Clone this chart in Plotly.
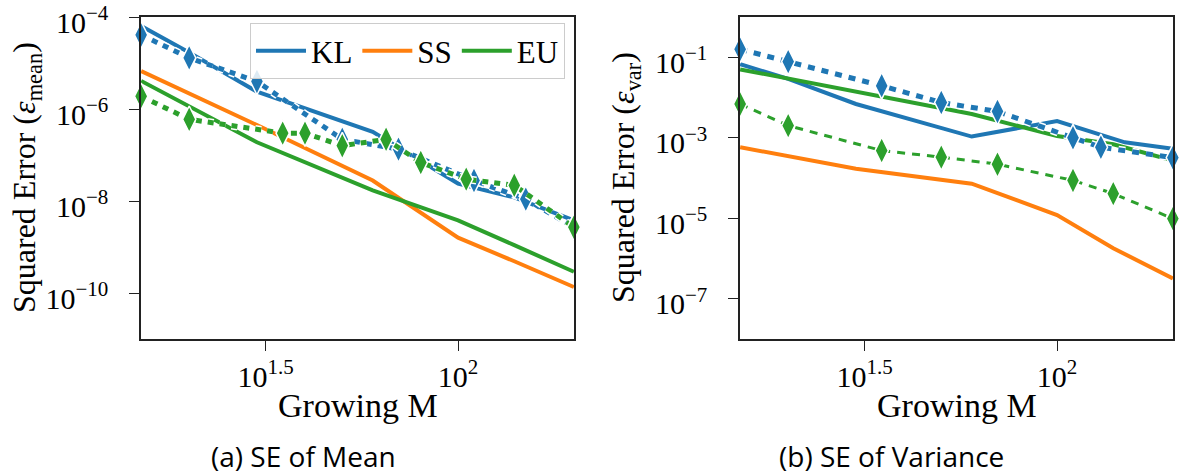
import plotly.graph_objects as go

W, H = 1192, 476

# ---------------- data: (a) SE of Mean ----------------
M_mean_kl = [15, 20, 30, 60, 100, 140, 200]
se_mean_kl = [6.4e-5, 1.7e-5, 2.4e-6, 3.2e-7, 2.4e-8, 1.2e-8, 3.8e-9]
M_mean_ss = [15, 20, 30, 60, 100, 140, 200]
se_mean_ss = [6.7e-6, 2.2e-6, 4.5e-7, 2.8e-8, 1.6e-9, 4.9e-10, 1.35e-10]
M_mean_eu = [15, 20, 30, 60, 100, 140, 200]
se_mean_eu = [4.1e-6, 1.15e-6, 1.9e-7, 1.7e-8, 3.8e-9, 1.1e-9, 2.9e-10]
M_mean_kl_dot = [15, 20, 30, 50, 70, 110, 150, 200]
se_mean_kl_dot = [4.1e-5, 1.3e-5, 4.0e-6, 2.2e-7, 1.35e-7, 2.8e-8, 1.1e-8, 2.7e-9]
M_mean_eu_dot = [15, 20, 35, 40, 50, 65, 80, 105, 140, 200]
se_mean_eu_dot = [1.9e-6, 6.0e-7, 3.0e-7, 3.0e-7, 1.6e-7, 2.2e-7, 6.9e-8, 3.0e-8, 2.2e-8, 2.7e-9]

# ---------------- data: (b) SE of Variance ----------------
M_var_kl = [15, 20, 30, 60, 100, 150, 200]
se_var_kl = [0.067, 0.029, 6.9e-3, 1.07e-3, 2.6e-3, 7.7e-4, 5.3e-4]
M_var_ss = [15, 30, 60, 100, 140, 200]
se_var_ss = [5.8e-4, 1.7e-4, 7.2e-5, 1.2e-5, 1.8e-6, 3.2e-7]
M_var_eu = [15, 30, 60, 100, 140, 200]
se_var_eu = [0.050, 0.0138, 3.9e-3, 1.1e-3, 6.9e-4, 2.7e-4]
M_var_kl_dot = [15, 20, 35, 50, 70, 110, 130, 200]
se_var_kl_dot = [0.158, 0.078, 0.0195, 7.5e-3, 4.5e-3, 1.0e-3, 5.8e-4, 3.2e-4]
M_var_eu_dot = [15, 20, 35, 50, 70, 110, 140, 200]
se_var_eu_dot = [6.9e-3, 2.0e-3, 4.8e-4, 3.3e-4, 2.2e-4, 8.7e-5, 4.1e-5, 9.8e-6]

legend_names = ["KL", "SS", "EU"]
colors = ["#1f77b4", "#ff7f0e", "#2ca02c"]

x_ticks = [10 ** 1.5, 100]
x_ticktext = ["10<sup>1.5</sup>", "10<sup>2</sup>"]
y_ticks_mean = [1e-4, 1e-6, 1e-8, 1e-10]
y_ticktext_mean = ["10<sup>\u22124</sup>", "10<sup>\u22126</sup>", "10<sup>\u22128</sup>", "10<sup>\u221210</sup>"]
y_ticks_var = [1e-1, 1e-3, 1e-5, 1e-7]
y_ticktext_var = ["10<sup>\u22121</sup>", "10<sup>\u22123</sup>", "10<sup>\u22125</sup>", "10<sup>\u22127</sup>"]

SERIF = "Liberation Serif"

fig = go.Figure()


def solid(x, y, i, xa, ya, show):
    fig.add_trace(go.Scatter(x=x, y=y, mode="lines", name=legend_names[i],
                             line=dict(color=colors[i], width=4),
                             xaxis=xa, yaxis=ya, showlegend=show, cliponaxis=False))


def dotted(x, y, i, xa, ya, width, dash):
    # white halo under the dotted line
    fig.add_trace(go.Scatter(x=x, y=y, mode="lines", name=legend_names[i] + " halo",
                             line=dict(color="white", width=width + 3, dash=dash),
                             xaxis=xa, yaxis=ya, showlegend=False, cliponaxis=False,
                             hoverinfo="skip"))
    fig.add_trace(go.Scatter(x=x, y=y, mode="lines+markers", name=legend_names[i] + " (dotted)",
                             line=dict(color=colors[i], width=width, dash=dash),
                             marker=dict(symbol="diamond-tall", size=19, color=colors[i],
                                         line=dict(color="white", width=1.5)),
                             xaxis=xa, yaxis=ya, showlegend=False, cliponaxis=False))


# left panel
solid(M_mean_kl, se_mean_kl, 0, "x", "y", True)
solid(M_mean_ss, se_mean_ss, 1, "x", "y", True)
solid(M_mean_eu, se_mean_eu, 2, "x", "y", True)
dotted(M_mean_kl_dot, se_mean_kl_dot, 0, "x", "y", 5, "6px,6px")
dotted(M_mean_eu_dot, se_mean_eu_dot, 2, "x", "y", 5, "6px,6px")
# right panel
solid(M_var_kl, se_var_kl, 0, "x2", "y2", False)
solid(M_var_ss, se_var_ss, 1, "x2", "y2", False)
solid(M_var_eu, se_var_eu, 2, "x2", "y2", False)
dotted(M_var_kl_dot, se_var_kl_dot, 0, "x2", "y2", 5, "7px,7px")
dotted(M_var_eu_dot, se_var_eu_dot, 2, "x2", "y2", 3, "8px,7px")

axis_common = dict(type="log", showline=True, linecolor="#222", linewidth=1.5, mirror=True,
                   ticks="outside", ticklen=10, tickwidth=1.3, tickcolor="#222",
                   showgrid=False, zeroline=False, ticklabeloverflow="allow", automargin=False,
                   tickfont=dict(family=SERIF, size=30, color="black"))

xr = [1.1757, 2.3014]
ydom = [1 - 339 / H, 1 - 17 / H]
fig.update_layout(
    width=W, height=H,
    margin=dict(l=0, r=0, t=0, b=0),
    paper_bgcolor="white", plot_bgcolor="white",
    xaxis=dict(axis_common, domain=[141 / W, 574 / W], anchor="y",
               range=xr, tickvals=x_ticks, ticktext=x_ticktext, ticklabelstandoff=0),
    yaxis=dict(axis_common, domain=ydom, anchor="x",
               range=[-11.0, -3.997], tickvals=y_ticks_mean, ticktext=y_ticktext_mean,
               ticklabelstandoff=15, ticklabelshift=5),
    xaxis2=dict(axis_common, domain=[740 / W, 1173 / W], anchor="y2",
                range=xr, tickvals=x_ticks, ticktext=x_ticktext, ticklabelstandoff=0),
    yaxis2=dict(axis_common, domain=ydom, anchor="x2",
                range=[-8.0, 0.0], tickvals=y_ticks_var, ticktext=y_ticktext_var,
                ticklabelstandoff=15, ticklabelshift=5),
    legend=dict(orientation="h", x=565 / W, xanchor="right", y=1 - 23 / H, yanchor="top",
                bgcolor="rgba(255,255,255,0.85)", bordercolor="#cccccc", borderwidth=1,
                font=dict(family=SERIF, size=31, color="black"), itemwidth=50,
                tracegroupgap=0),
    showlegend=True,
)

ann = []
def text(x, y, s, size, family=SERIF, angle=0):
    ann.append(dict(x=x / W, y=1 - y / H, xref="paper", yref="paper", text=s, showarrow=False,
                    xanchor="center", yanchor="middle", textangle=angle,
                    font=dict(family=family, size=size, color="black")))

text(357.5, 405, "Growing M", 34)
text(956.5, 405, "Growing M", 34)
text(26, 178, "Squared Error (<i>\u03b5</i><sub>mean</sub>)", 32, angle=-90)
text(625, 178, "Squared Error (<i>\u03b5</i><sub>var</sub>)", 32, angle=-90)
text(303, 456, "(a) SE of Mean", 28, family="Open Sans")
text(891, 456, "(b) SE of Variance", 28, family="Open Sans")
fig.update_layout(annotations=ann)

fig.write_html("out.html")
